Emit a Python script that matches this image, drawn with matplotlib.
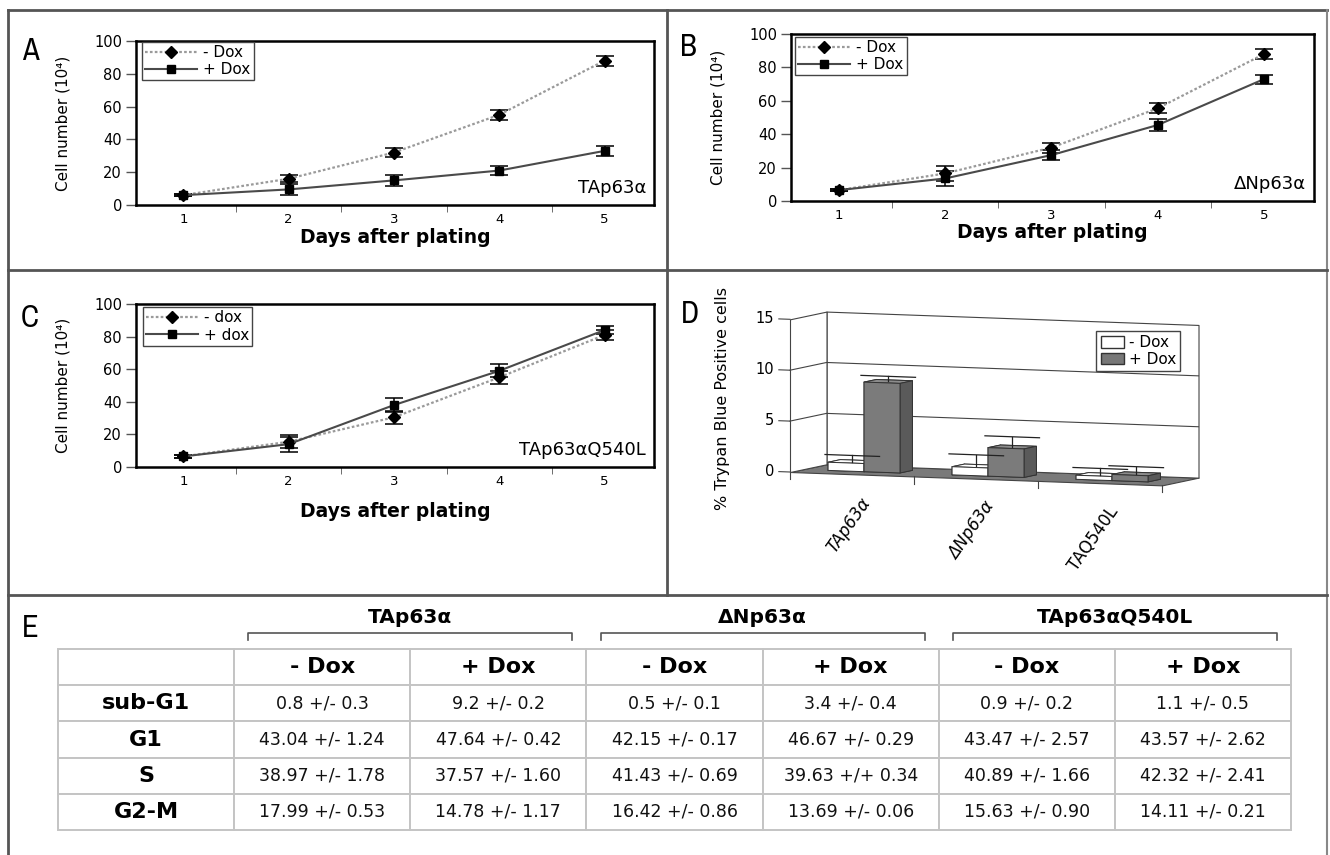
import numpy as np
import matplotlib
matplotlib.use("Agg")
import matplotlib.pyplot as plt
from matplotlib import font_manager
from matplotlib.patches import Patch
from mpl_toolkits.mplot3d.art3d import Poly3DCollection

W, H = 1330, 855
plt.rcParams['font.family'] = ['DejaVu Sans']

# narrow face for the panel letters, if one is installed
narrow = [f.name for f in font_manager.fontManager.ttflist
          if 'Narrow' in f.name or 'Condensed' in f.name or f.stretch in ('condensed', 'semi-condensed')]
LETTER_FONT = sorted(set(narrow))[:1] + ['DejaVu Sans']

# ---- growth curves (cell number x10^4) ----
days = [1, 2, 3, 4, 5]
a_minus = [6, 16, 32, 55, 88]
a_minus_err = [0.8, 2.0, 3.0, 3.0, 3.0]
a_plus = [6, 9.5, 15, 21, 33]
a_plus_err = [0.8, 3.5, 3.5, 2.5, 3.0]

b_minus = [6.5, 16.5, 32, 55.5, 88]
b_minus_err = [0.8, 4.5, 3.0, 3.0, 3.0]
b_plus = [6.5, 13.5, 27.5, 45.5, 73]
b_plus_err = [0.8, 4.5, 3.0, 3.5, 2.7]

c_minus = [6.5, 15.5, 30.5, 55, 81]
c_minus_err = [0.8, 4.0, 4.0, 4.0, 3.0]
c_plus = [6.5, 14, 38, 59, 84]
c_plus_err = [0.8, 4.5, 4.5, 4.0, 2.5]

# ---- trypan blue (%) ----
d_groups = ['TAp63\u03b1', '\u0394Np63\u03b1', 'TAQ540L']
d_minus = [0.8, 0.8, 0.4]
d_minus_err = [0.6, 1.1, 0.6]
d_plus = [8.8, 2.8, 0.6]
d_plus_err = [0.5, 1.0, 0.7]
d_ticks = [0, 5, 10, 15]

# ---- cell cycle table ----
e_groups = ['TAp63\u03b1', '\u0394Np63\u03b1', 'TAp63\u03b1Q540L']
phases = ['sub-G1', 'G1', 'S', 'G2-M']
tap_minus = ['0.8 +/- 0.3', '43.04 +/- 1.24', '38.97 +/- 1.78', '17.99 +/- 0.53']
tap_plus = ['9.2 +/- 0.2', '47.64 +/- 0.42', '37.57 +/- 1.60', '14.78 +/- 1.17']
dn_minus = ['0.5 +/- 0.1', '42.15 +/- 0.17', '41.43 +/- 0.69', '16.42 +/- 0.86']
dn_plus = ['3.4 +/- 0.4', '46.67 +/- 0.29', '39.63 +/+ 0.34', '13.69 +/- 0.06']
q_minus = ['0.9 +/- 0.2', '43.47 +/- 2.57', '40.89 +/- 1.66', '15.63 +/- 0.90']
q_plus = ['1.1 +/- 0.5', '43.57 +/- 2.62', '42.32 +/- 2.41', '14.11 +/- 0.21']


def px_rect(l, t, r, b):
    return [l / W, 1 - b / H, (r - l) / W, (b - t) / H]


fig = plt.figure(figsize=(W / 100, H / 100), dpi=100)

# background: panel frames and letters in pixel coords
bg = fig.add_axes([0, 0, 1, 1])
bg.set_xlim(0, W)
bg.set_ylim(H, 0)
bg.axis('off')
fc = '#555555'
bg.plot([8, 1327], [10, 10], color=fc, lw=2)
bg.plot([8, 8], [10, 855], color=fc, lw=2)
bg.plot([1327, 1327], [10, 855], color='#888888', lw=1.5)
bg.plot([667, 667], [10, 595], color=fc, lw=2)
bg.plot([8, 1327], [270, 270], color=fc, lw=2)
bg.plot([8, 1327], [595, 595], color=fc, lw=2)
for lab, x, y in [('A', 30, 51), ('B', 688, 47), ('C', 30, 318), ('D', 690, 314), ('E', 30, 628)]:
    bg.text(x, y, lab, fontsize=22, family=LETTER_FONT, fontstretch='condensed',
            ha='center', va='center')


def growth(rect, minus, minus_err, plus, plus_err, leg, name, xlab_off, leg_anchor):
    ax = fig.add_axes(rect)
    ax.errorbar(days, minus, yerr=minus_err, fmt='none', ecolor='black',
                elinewidth=1.1, capsize=6.5, capthick=1.1, zorder=3)
    ax.errorbar(days, plus, yerr=plus_err, fmt='none', ecolor='black',
                elinewidth=1.1, capsize=6.5, capthick=1.1, zorder=3)
    ax.plot(days, minus, color='#9a9a9a', lw=1.6, ls=(0, (1.2, 1)), marker='D',
            ms=6.5, mfc='black', mec='black', label=leg[0], zorder=4)
    ax.plot(days, plus, color='#4a4a4a', lw=1.5, marker='s', ms=6,
            mfc='black', mec='black', label=leg[1], zorder=4)
    ax.set_xlim(0.55, 5.47)
    ax.set_ylim(0, 100)
    ax.set_yticks(range(0, 101, 20))
    ax.set_xticks(days)
    ax.set_xticks([1.5, 2.5, 3.5, 4.5], minor=True)
    ax.tick_params(axis='x', which='major', length=0, pad=6, labelsize=9.5)
    ax.tick_params(axis='x', which='minor', length=5, direction='out', color='#555555')
    ax.tick_params(axis='y', length=7, width=1, color='#555555', labelsize=10.5, pad=3)
    for s in ax.spines.values():
        s.set_linewidth(1.8)
    ax.set_ylabel('Cell number (10\u2074)', fontsize=11)
    ax.yaxis.label.set_va('center')
    ax.yaxis.set_label_coords(-0.14, 0.5)
    ax.set_xlabel('Days after plating', fontsize=13.5, fontweight='bold')
    ax.xaxis.label.set_va('center')
    ax.xaxis.set_label_coords(0.5, xlab_off)
    lg = ax.legend(loc='upper left', bbox_to_anchor=leg_anchor, borderaxespad=0,
                   fontsize=11, handlelength=3.4, handletextpad=0.4, borderpad=0.2,
                   labelspacing=0.15, fancybox=False, edgecolor='#444444', framealpha=1)
    lg.get_frame().set_linewidth(1)
    ax.text(0.985, 0.05, name, transform=ax.transAxes, ha='right', va='bottom', fontsize=13)
    return ax


growth(px_rect(136, 41, 654, 205), a_minus, a_minus_err, a_plus, a_plus_err,
       ['- Dox', '+ Dox'], 'TAp63\u03b1', -0.20, (0.012, 0.995))
growth(px_rect(791, 34, 1314, 201), b_minus, b_minus_err, b_plus, b_plus_err,
       ['- Dox', '+ Dox'], '\u0394Np63\u03b1', -0.19, (0.008, 0.982))
growth(px_rect(136, 304, 654, 467), c_minus, c_minus_err, c_plus, c_plus_err,
       ['- dox', '+ dox'], 'TAp63\u03b1Q540L', -0.276, (0.013, 0.98))

# ---- panel D: 3D columns ----
axd = fig.add_axes([0.55, 0.3, 0.3, 0.3 * W / H], projection='3d', computed_zorder=False)
axd.set_facecolor('none')
axd.set_axis_off()
ZMAX = 15
ng = len(d_groups)
axd.add_collection3d(Poly3DCollection([[(0, 0, 0), (ng, 0, 0), (ng, 1, 0), (0, 1, 0)]],
                                      facecolor='#7a7a7a', edgecolor='#444444', lw=0.8, zorder=1))
axd.add_collection3d(Poly3DCollection([[(0, 1, 0), (ng, 1, 0), (ng, 1, ZMAX), (0, 1, ZMAX)]],
                                      facecolor='white', edgecolor='#444444', lw=0.8, zorder=1))
axd.add_collection3d(Poly3DCollection([[(0, 0, 0), (0, 1, 0), (0, 1, ZMAX), (0, 0, ZMAX)]],
                                      facecolor='white', edgecolor='#444444', lw=0.8, zorder=1))
for z in d_ticks[1:-1]:
    axd.plot([0, 0, ng], [0, 1, 1], [z, z, z], color='#444444', lw=0.8, zorder=2)
for z in d_ticks:
    axd.plot([-0.09, 0], [0, 0], [z, z], color='#444444', lw=0.8, zorder=2)
for xt in range(ng + 1):
    axd.plot([xt, xt], [0, 0], [0, -0.7], color='#444444', lw=0.8, zorder=2)

bw, bd, by = 0.29, 0.34, 0.33
white_faces = ['white', 'white', 'white', 'white', '#e6e6e6', '#dcdcdc']
gray_faces = ['#707070', '#8c8c8c', '#7b7b7b', '#7b7b7b', '#636363', '#5a5a5a']
for i in range(ng):
    for j, (vals, errs, faces) in enumerate([(d_minus, d_minus_err, white_faces),
                                              (d_plus, d_plus_err, gray_faces)]):
        x0 = i + 0.5 - bw + j * bw
        axd.bar3d([x0], [by], [0], bw, bd, [vals[i]], color=faces, shade=False,
                  edgecolor='#333333', linewidth=0.7, zorder=3)
        xc, yc, top = x0 + bw / 2, by + bd / 2, vals[i] + errs[i]
        axd.plot([xc, xc], [yc, yc], [vals[i], top], color='#222222', lw=0.9, zorder=4)
        axd.plot([xc - 0.22, xc + 0.22], [yc, yc], [top, top], color='#222222', lw=0.9, zorder=4)

axd.set_xlim(0, ng)
axd.set_ylim(0, 1)
axd.set_zlim(0, ZMAX)
axd.set_proj_type('ortho')
axd.view_init(elev=5, azim=-67.6)
axd.set_box_aspect((4.2, 1.0, 1.6))

M = axd.get_proj()


def proj2d(x, y, z):
    v = M @ np.array([x, y, z, 1.0])
    return v[0] / v[3], v[1] / v[3]


# fit the projected box onto the panel area (front-left floor corner, front width)
p0 = proj2d(0, 0, 0)
p1 = proj2d(ng, 0, 0)
k = (1162 - 790) / (p1[0] - p0[0])
vx0, vx1 = axd.viewLim.intervalx
vy0, vy1 = axd.viewLim.intervaly
ax_w, ax_h = k * (vx1 - vx0), k * (vy1 - vy0)
ax_x0 = 790 - k * (p0[0] - vx0)
ax_y0 = (H - 472) - k * (p0[1] - vy0)
axd.set_position([ax_x0 / W, ax_y0 / H, ax_w / W, ax_h / H])

for z in d_ticks:
    px, py = proj2d(-0.13, 0, z)
    axd.text2D(px, py, str(z), transform=axd.transData, ha='right', va='center', fontsize=10.5)
for i, g in enumerate(d_groups):
    px, py = proj2d(i + 0.62, 0, -2.4)
    axd.text2D(px, py, g, transform=axd.transData, rotation=55, rotation_mode='anchor',
               ha='right', va='center', fontsize=12, style='italic' if i < 2 else 'normal')

bg.text(723, 398, '% Trypan Blue Positive cells', rotation=90, ha='center', va='center', fontsize=11.5)
lgd = fig.legend(handles=[Patch(facecolor='white', edgecolor='#333333', label='- Dox'),
                          Patch(facecolor='#777777', edgecolor='#333333', label='+ Dox')],
                 loc='upper right', bbox_to_anchor=(1188 / W, 1 - 323 / H), fontsize=11,
                 handlelength=1.5, handleheight=0.8, handletextpad=0.3, borderpad=0.3,
                 labelspacing=0.1, fancybox=False, edgecolor='#444444', framealpha=1)
lgd.get_frame().set_linewidth(1)

# ---- panel E: table ----
axt = fig.add_axes(px_rect(58, 649, 1291, 830))
axt.axis('off')
axt.set_xlim(0, 7)
axt.set_ylim(0, 5)
cells = [[''] + ['- Dox', '+ Dox'] * 3]
for i, ph in enumerate(phases):
    cells.append([ph, tap_minus[i], tap_plus[i], dn_minus[i], dn_plus[i], q_minus[i], q_plus[i]])
tb = axt.table(cellText=cells, cellLoc='center', bbox=[0, 0, 1, 1])
tb.auto_set_font_size(False)
for (r, c), cell in tb.get_celld().items():
    cell.set_edgecolor('#c4c4c4')
    cell.set_linewidth(1.4)
    t = cell.get_text()
    if r == 0 or c == 0:
        t.set_fontweight('bold')
        t.set_fontsize(16)
    else:
        t.set_fontsize(12.5)
        t.set_color('#111111')

for g, name in enumerate(e_groups):
    c = 2 + 2 * g
    axt.plot([c - 0.92, c - 0.92, c + 0.92, c + 0.92], [5.25, 5.44, 5.44, 5.25],
             color='#555555', lw=1.2, clip_on=False)
    axt.text(c, 5.86, name, ha='center', va='center', fontsize=14.5, fontweight='bold')

fig.savefig('out.png', dpi=100)
